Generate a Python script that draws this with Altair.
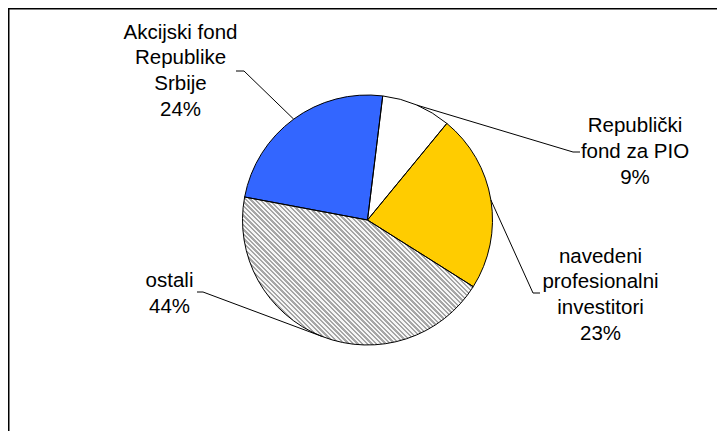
import math
import altair as alt
import pandas as pd

# ---- data ----
labels = ["Republički\nfond za PIO", "navedeni\nprofesionalni\ninvestitori", "ostali",
          "Akcijski fond\nRepublike\nSrbije"]
values = [9, 23, 44, 24]
colors = ["#FFFFFF", "#FFCC00", "#FFFFFF", "#3366FF"]
hatch_label = "ostali"

# ---- layout (image pixels, converted to chart space) ----
OFF = 8
W, H = 709, 423
CX, CY, R = 367.5 - OFF, 220 - OFF, 125
START = math.radians(7)
FONT = "Liberation Sans"
FS = 20.5
LH = 25.8
layout = {
    labels[0]: dict(tx=635, ty=132, elbow=(573, 152), end=580),
    labels[1]: dict(tx=600.5, ty=262.5, elbow=(533, 293), end=540),
    labels[2]: dict(tx=169.5, ty=286.7, elbow=(203, 292), end=197),
    labels[3]: dict(tx=180.5, ty=38.5, elbow=(244, 71), end=236),
}

total = sum(values)
df = pd.DataFrame({"label": labels, "value": values, "order": list(range(len(labels)))})

theta_scale = alt.Scale(domain=[0, total], range=[START, START + 2 * math.pi], nice=False)


def angle(v):
    return START + 2 * math.pi * v / total


# cumulative (for leader lines and hatch geometry)
cum = []
c = 0
for v in values:
    cum.append((c, c + v))
    c += v

base = alt.Chart(df).transform_window(
    end="sum(value)", sort=[alt.SortField("order")]
).transform_calculate(start="datum.end - datum.value")

enc = dict(
    theta=alt.Theta("start:Q", scale=theta_scale),
    theta2="end:Q",
    x=alt.value(CX),
    y=alt.value(CY),
)

fills = base.mark_arc(radius=R).encode(
    color=alt.Color("label:N", scale=alt.Scale(domain=labels, range=colors), legend=None),
    **enc,
)

# hatch gradient for "ostali"
hi = labels.index(hatch_label)
a0, a1 = angle(cum[hi][0]), angle(cum[hi][1])
xs, ys = [CX], [CY]
n = 400
for k in range(n + 1):
    a = a0 + (a1 - a0) * k / n
    xs.append(CX + R * math.sin(a))
    ys.append(CY - R * math.cos(a))
bw = max(xs) - min(xs)
bh = max(ys) - min(ys)
rr = bh / bw
s = (1 + rr) / (1 + rr * rr)
period = 4.6  # horizontal stripe period in px
N = int(round((bw + bh) / period))
gray, white = "#a6a6a6", "#f6f6f6"
stops = []
for k in range(N):
    o0 = k / N
    om = (k + 0.5) / N
    o1 = (k + 1) / N
    stops += [
        {"offset": o0, "color": gray},
        {"offset": om, "color": gray},
        {"offset": om, "color": white},
        {"offset": o1, "color": white},
    ]
grad = {"gradient": "linear", "x1": 0, "y1": 1, "x2": s, "y2": 1 - s * rr, "stops": stops}

hatch = base.transform_filter(alt.datum.label == hatch_label).mark_arc(
    radius=R, fill=grad
).encode(**enc)

outline = base.mark_arc(radius=R, filled=False, stroke="black", strokeWidth=1).encode(**enc)

# label text rows
trows = []
lrows = []
for i, (lab, v) in enumerate(zip(labels, values)):
    L = layout[lab]
    lines = lab.split("\n") + [f"{v}%"]
    for j, t in enumerate(lines):
        trows.append({"t": t, "x": L["tx"] - OFF, "y": L["ty"] - OFF + j * LH})
    mid = angle((cum[i][0] + cum[i][1]) / 2)
    px, py = CX + R * math.sin(mid), CY - R * math.cos(mid)
    ex, ey = L["elbow"]
    lrows += [
        {"g": lab, "i": 0, "x": L["end"] - OFF, "y": ey - OFF},
        {"g": lab, "i": 1, "x": ex - OFF, "y": ey - OFF},
        {"g": lab, "i": 2, "x": px, "y": py},
    ]

texts = alt.Chart(pd.DataFrame(trows)).mark_text(
    font=FONT, fontSize=FS, align="center", baseline="alphabetic", color="black"
).encode(x=alt.X("x:Q", scale=None), y=alt.Y("y:Q", scale=None), text="t:N")

leaders = alt.Chart(pd.DataFrame(lrows)).mark_line(color="black", strokeWidth=1).encode(
    x=alt.X("x:Q", scale=None), y=alt.Y("y:Q", scale=None), detail="g:N", order="i:Q"
)

top_border = alt.Chart(pd.DataFrame({"a": [0]})).mark_rule(color="black", strokeWidth=1.5).encode(
    x=alt.value(0), x2=alt.value(W), y=alt.value(0.75)
)
left_border = alt.Chart(pd.DataFrame({"a": [0]})).mark_rule(color="black", strokeWidth=1.5).encode(
    x=alt.value(0.75), y=alt.value(0), y2=alt.value(H)
)

chart = alt.layer(fills, hatch, outline, leaders, texts, top_border, left_border).properties(
    width=W, height=H, autosize="none", padding=0, background="white"
).configure_view(stroke=None)

chart.save("out.html", embed_options={"renderer": "svg", "actions": False})
